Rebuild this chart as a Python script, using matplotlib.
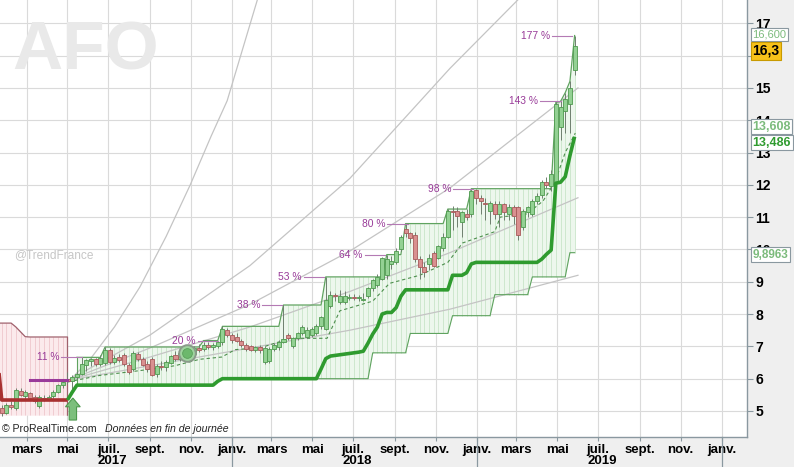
import matplotlib
matplotlib.use("Agg")
import matplotlib.pyplot as plt
import matplotlib.dates as mdates
import matplotlib.transforms as mtransforms
from matplotlib.patches import FancyArrow
from matplotlib.lines import Line2D
import numpy as np
import pandas as pd

plt.rcParams["font.family"] = ["Liberation Sans", "DejaVu Sans"]

# ---------------- data ----------------
WEEK0 = "2017-01-23"          # first weekly candle
OPEN = [5.10, 4.95, 5.20, 5.08, 5.62, 5.45, 5.55, 5.42, 5.15, 5.40,
        5.38, 5.45, 5.60, 5.80, 6.00, 5.93, 6.06, 6.15, 6.42, 6.55,
        6.60, 6.45, 6.48, 6.90, 6.52, 6.66, 6.72, 6.42, 6.30, 6.76,
        6.60, 6.45, 6.60, 6.15, 6.40, 6.36, 6.50, 6.72, 6.60, 6.80,
        6.88, 6.76, 6.96, 6.92, 7.05, 6.98, 7.02, 7.12, 7.50, 7.36,
        7.30, 7.16, 7.05, 7.00, 6.88, 6.98, 6.52, 6.55, 6.92, 6.98,
        7.15, 7.35, 7.00, 7.25, 7.40, 7.30, 7.35, 7.40, 7.62, 7.55,
        8.25, 8.60, 8.38, 8.38, 8.50, 8.52, 8.50, 8.45, 8.55, 8.80,
        8.90, 9.10, 9.20, 9.55, 9.60, 10.00, 10.62, 10.50, 10.45, 9.70,
        9.45, 9.55, 9.90, 9.75, 10.05, 10.40, 11.20, 11.20, 10.85, 11.10,
        11.10, 11.85, 11.60, 11.45, 11.20, 11.40, 11.10, 11.40, 11.10, 11.30,
        11.30, 10.70, 11.15, 11.10, 11.50, 11.70, 12.10, 11.95, 12.10, 13.80,
        14.30, 14.50, 15.55]
HIGH = [5.20, 5.25, 5.30, 5.70, 5.72, 5.65, 5.60, 5.48, 5.48, 5.50,
        5.50, 5.65, 5.85, 5.98, 6.20, 6.12, 6.25, 6.66, 6.62, 6.63,
        6.64, 6.72, 6.98, 6.96, 6.72, 6.76, 6.78, 6.48, 6.86, 6.82,
        6.66, 6.55, 6.66, 6.45, 6.55, 6.58, 6.74, 6.86, 6.86, 6.95,
        6.95, 7.02, 7.06, 7.12, 7.14, 7.10, 7.18, 7.62, 7.58, 7.42,
        7.40, 7.22, 7.10, 7.05, 7.02, 7.05, 7.00, 6.98, 7.10, 7.20,
        8.28, 7.40, 7.30, 7.45, 7.65, 7.60, 7.60, 7.70, 7.95, 9.15,
        8.70, 8.65, 8.75, 8.70, 8.62, 8.62, 8.60, 8.65, 8.85, 9.10,
        9.25, 9.78, 9.84, 9.80, 10.05, 10.45, 10.80, 10.55, 10.55, 9.80,
        9.60, 9.85, 9.95, 10.15, 10.50, 11.25, 11.35, 11.30, 11.20, 11.25,
        11.88, 11.88, 11.70, 11.60, 11.50, 11.50, 11.50, 11.45, 11.40, 11.38,
        11.35, 11.25, 11.35, 11.55, 11.75, 12.15, 12.25, 12.45, 14.55, 14.58,
        14.85, 15.20, 16.62]
LOW = [4.85, 4.90, 5.05, 5.02, 5.45, 5.38, 5.35, 5.25, 5.10, 5.32,
       5.34, 5.40, 5.55, 5.72, 5.85, 5.60, 5.98, 6.10, 6.25, 6.40,
       6.38, 6.40, 6.42, 6.45, 6.46, 6.52, 6.40, 6.15, 6.25, 6.55,
       6.38, 6.22, 6.08, 6.05, 6.28, 6.25, 6.45, 6.55, 6.55, 6.70,
       6.68, 6.72, 6.84, 6.86, 6.92, 6.88, 6.95, 7.05, 7.30, 7.10,
       7.12, 6.98, 6.86, 6.85, 6.82, 6.80, 6.45, 6.48, 6.85, 6.90,
       7.10, 7.20, 6.95, 7.20, 7.35, 7.25, 7.30, 7.35, 7.55, 7.50,
       8.20, 8.40, 8.30, 8.30, 8.42, 8.45, 8.40, 8.40, 8.50, 8.70,
       8.85, 9.05, 9.10, 9.40, 9.55, 9.95, 10.40, 10.20, 9.60, 9.10,
       9.15, 9.35, 9.45, 9.70, 9.95, 10.35, 10.60, 10.70, 10.40, 10.90,
       11.00, 11.40, 11.10, 10.90, 10.80, 10.95, 10.70, 10.90, 10.90, 10.80,
       10.30, 10.60, 11.00, 11.05, 11.40, 11.60, 11.90, 11.80, 12.00, 13.40,
       13.60, 13.60, 15.40]
CLOSE = [4.95, 5.20, 5.12, 5.65, 5.50, 5.60, 5.40, 5.30, 5.42, 5.38,
         5.44, 5.60, 5.80, 5.90, 5.93, 6.06, 6.15, 6.45, 6.58, 6.60,
         6.45, 6.65, 6.90, 6.52, 6.65, 6.58, 6.45, 6.22, 6.80, 6.62,
         6.42, 6.30, 6.12, 6.40, 6.36, 6.52, 6.70, 6.60, 6.80, 6.86,
         6.76, 6.96, 6.90, 7.05, 6.98, 7.04, 7.12, 7.55, 7.36, 7.20,
         7.16, 7.05, 6.92, 6.88, 6.98, 6.88, 6.96, 6.92, 7.05, 7.15,
         7.22, 7.25, 7.25, 7.40, 7.60, 7.52, 7.55, 7.62, 7.90, 8.45,
         8.60, 8.55, 8.55, 8.56, 8.50, 8.50, 8.52, 8.48, 8.80, 9.05,
         9.15, 9.72, 9.70, 9.65, 9.95, 10.40, 10.50, 10.35, 9.70, 9.45,
         9.30, 9.75, 9.50, 10.10, 10.40, 11.20, 11.15, 11.05, 11.15, 11.00,
         11.80, 11.60, 11.50, 11.40, 11.45, 11.10, 11.40, 11.15, 11.30, 11.05,
         10.45, 11.20, 11.30, 11.50, 11.65, 12.10, 12.00, 12.35, 14.50, 14.40,
         14.65, 15.00, 16.30]

# trailing stop, green part (weeks 14..122)
STOP_GREEN = [5.34, 5.58,
              5.80, 5.80, 5.80, 5.80, 5.80, 5.80, 5.80, 5.80, 5.80, 5.80,
              5.80, 5.80, 5.80, 5.80, 5.80, 5.80, 5.80, 5.80, 5.80, 5.80,
              5.80, 5.80, 5.80, 5.80, 5.80, 5.80, 5.80, 5.80, 5.80, 5.80,
              5.92,
              6.00, 6.00, 6.00, 6.00, 6.00, 6.00, 6.00, 6.00, 6.00, 6.00,
              6.00, 6.00, 6.00, 6.00, 6.00, 6.00, 6.00, 6.00, 6.00, 6.00, 6.00,
              6.30, 6.62, 6.70, 6.72, 6.74, 6.76, 6.78, 6.80, 6.82, 6.85,
              7.10, 7.38, 7.60, 8.00, 8.05, 8.05, 8.20, 8.55,
              8.75, 8.75, 8.75, 8.75, 8.75, 8.75, 8.75, 8.75, 8.75, 8.75,
              9.20, 9.20, 9.20, 9.28, 9.55,
              9.60, 9.60, 9.60, 9.60, 9.60, 9.60, 9.60, 9.60, 9.60, 9.60,
              9.60, 9.60, 9.60, 9.60,
              9.70, 9.85, 9.98, 12.05, 12.08, 12.25, 12.90, 13.49]
# trailing stop, red part (one week before chart start, then weeks 0..14)
RED_DATES_START = "2017-01-16"
STOP_RED = [6.76, 5.34, 5.34, 5.34, 5.34, 5.34, 5.34, 5.34, 5.34, 5.34,
            5.34, 5.34, 5.34, 5.34, 5.34, 5.34]
PINK_TOP = [7.72, 7.72, 7.72, 7.72, 7.60, 7.45, 7.30, 7.29, 7.29, 7.29,
            7.29, 7.29, 7.29, 7.29, 7.29, 7.29]
PINK_BOTTOM = [4.87, 4.87, 4.87, 4.87, 4.87, 4.87, 4.87, 4.87, 4.87, 4.87,
               4.87, 4.87, 4.87, 4.87, 4.87, 4.87]

# channel box (weeks 16..122)
BOX_TOP = [6.66, 6.66, 6.66, 6.66, 6.66, 6.66,
           6.98, 6.98, 6.98, 6.98, 6.98, 6.98, 6.98, 6.98, 6.98, 6.98,
           6.98, 6.98, 6.98, 6.98, 6.98, 6.98, 6.98, 6.98, 6.98, 6.98, 6.98,
           7.18, 7.18, 7.18, 7.18,
           7.62, 7.62, 7.62, 7.62, 7.62, 7.62, 7.62, 7.62, 7.62, 7.62,
           7.62, 7.62, 7.62,
           8.28, 8.28, 8.28, 8.28, 8.28, 8.28, 8.28, 8.28, 8.28,
           9.15, 9.15, 9.15, 9.15, 9.15, 9.15, 9.15, 9.15, 9.15, 9.15,
           9.15, 9.15, 9.15,
           9.84, 9.84, 9.84, 9.84,
           10.80, 10.80, 10.80, 10.80, 10.80, 10.80, 10.80, 10.80, 10.80,
           11.25, 11.25, 11.25, 11.25, 11.25,
           11.88, 11.88, 11.88, 11.88, 11.88, 11.88, 11.88, 11.88, 11.88,
           11.88, 11.88, 11.88, 11.88, 11.88, 11.88, 11.88, 11.88, 11.88,
           14.55, 14.58, 14.85, 15.20, 16.62]
BOX_LOW = [5.80, 5.80, 5.80, 5.80, 5.80, 5.80, 5.80, 5.80, 5.80, 5.80,
           5.80, 5.80, 5.80, 5.80, 5.80, 5.80, 5.80, 5.80, 5.80, 5.80,
           5.80, 5.80, 5.80, 5.80, 5.80, 5.80, 5.80, 5.80, 5.80, 5.80,
           5.92,
           6.00, 6.00, 6.00, 6.00, 6.00, 6.00, 6.00, 6.00, 6.00, 6.00,
           6.00, 6.00, 6.00, 6.00, 6.00, 6.00, 6.00, 6.00, 6.00, 6.00,
           6.00, 6.00, 6.00, 6.00, 6.00, 6.00, 6.00, 6.00, 6.00, 6.00,
           6.00, 6.00,
           6.80, 6.80, 6.80, 6.80, 6.80, 6.80, 6.80, 6.80,
           7.40, 7.40, 7.40, 7.40, 7.40, 7.40, 7.40, 7.40, 7.40,
           7.95, 7.95, 7.95, 7.95, 7.95, 7.95, 7.95, 7.95, 7.95,
           8.60, 8.60, 8.60, 8.60, 8.60, 8.60, 8.60, 8.60,
           9.15, 9.15, 9.15, 9.15, 9.15, 9.15, 9.15, 9.15,
           9.90, 9.90]

# dashed support line
DASH_DATES = ["2017-05-02", "2017-06-18", "2017-08-17", "2017-10-08", "2017-11-14",
              "2017-12-17", "2018-01-06", "2018-02-12", "2018-03-29", "2018-05-23",
              "2018-06-11", "2018-07-30", "2018-08-24", "2018-10-08", "2018-11-19",
              "2018-12-11", "2019-01-28", "2019-02-05", "2019-03-17", "2019-04-10",
              "2019-04-28", "2019-05-13", "2019-05-28"]
DASH_VALUES = [5.90, 6.10, 6.25, 6.40, 6.60, 6.67, 6.90, 6.95, 7.25, 7.25,
               8.10, 8.40, 8.95, 9.20, 9.60, 10.20, 10.55, 11.00, 11.10, 11.50,
               12.10, 13.00, 13.60]

# grey growth curves
CURVE_A_DATES = ["2017-05-02", "2017-06-03", "2017-07-10", "2017-08-17", "2017-09-25",
                 "2017-10-31", "2017-12-01", "2017-12-25", "2018-02-12"]
CURVE_A = [5.90, 6.58, 7.60, 8.84, 10.40, 12.00, 13.50, 14.60, 18.00]
CURVE_DATES = ["2017-05-02", "2017-09-01", "2018-01-28", "2018-06-26", "2018-11-22", "2019-06-01"]
CURVE_B = [5.95, 7.35, 9.50, 12.20, 15.60, 19.60]
CURVE_C = [5.95, 6.95, 8.30, 9.95, 11.90, 15.00]
CURVE_D = [5.95, 6.67, 7.60, 8.70, 9.90, 11.60]
CURVE_E = [5.95, 6.40, 6.95, 7.50, 8.15, 9.20]

# breakout percentages
PCT = [11, 20, 38, 53, 64, 80, 98, 143, 177]
PCT_LEVEL = [6.66, 7.18, 8.28, 9.15, 9.84, 10.80, 11.88, 14.58, 16.62]
PCT_DATE = ["2017-05-22", "2017-12-11", "2018-03-17", "2018-05-18", "2018-08-17",
            "2018-09-20", "2018-12-27", "2019-05-06", "2019-05-23"]

REF_LEVEL = 5.97
REF_START, REF_END = "2017-03-06", "2017-05-01"
ARROW_DATE, ARROW_BASE, ARROW_TIP = "2017-05-09", 4.72, 5.40
ICON_DATE, ICON_LEVEL = "2017-10-26", 6.80

# right-hand value boxes: text, level, pixel shift
BOXES = [("16,600", 16.600, 2), ("16,3", 16.30, -5), ("13,608", 13.608, 6),
         ("13,486", 13.486, -6), ("9,8963", 9.8963, -2)]

MONTHS_FR = {1: "janv.", 3: "mars", 5: "mai", 7: "juil.", 9: "sept.", 11: "nov."}
YEARS = [2017, 2018, 2019]

# ---------------- styling ----------------
GREEN_BODY, GREEN_EDGE = "#93d193", "#4e9a4e"
RED_BODY, RED_EDGE = "#d99090", "#a85a5a"
STOP_GREEN_C, STOP_RED_C = "#2f9b2f", "#a83030"
BOX_LINE, BOX_FILL, BOX_HATCH = "#5fa35f", "#edf7ed", "#c9e5c9"
PINK_FILL, PINK_LINE, PINK_HATCH = "#fbeaec", "#a0606c", "#eec7cc"
PURPLE, PURPLE_LINE = "#983a98", "#b47ab4"
GREY = "#c4c4c4"
GRID = "#dadada"
SPINE = "#8a98a0"

W, H = 794, 467
fig = plt.figure(figsize=(W / 100, H / 100), dpi=100, facecolor="#efefef")
ax = fig.add_axes([0, 30 / H, 747 / W, 437 / H])
ax.set_facecolor("white")

weeks = pd.date_range(WEEK0, periods=len(CLOSE), freq="7D")
o, h, l, c = map(np.array, (OPEN, HIGH, LOW, CLOSE))

# pink (short) zone
red_dates = pd.date_range(RED_DATES_START, periods=len(STOP_RED), freq="7D")
ax.fill_between(red_dates, PINK_BOTTOM, PINK_TOP, color=PINK_FILL, lw=0, zorder=1)
ax.vlines(red_dates, PINK_BOTTOM, PINK_TOP, color=PINK_HATCH, lw=0.6, zorder=1.1)
ax.plot(list(red_dates) + [red_dates[-1]], PINK_TOP + [PINK_BOTTOM[-1]],
        color=PINK_LINE, lw=0.9, zorder=1.3)

# green channel zone
bd = weeks[16:]
ax.fill_between(bd, BOX_LOW, BOX_TOP, color=BOX_FILL, lw=0, zorder=1)
ax.vlines(bd, BOX_LOW, BOX_TOP, color=BOX_HATCH, lw=0.6, zorder=1.1)
ax.plot(bd, BOX_TOP, color=BOX_LINE, lw=0.9, zorder=1.6)
ax.plot(bd, BOX_LOW, color=BOX_LINE, lw=0.8, zorder=1.6)
ax.plot([bd[0], bd[0]], [BOX_LOW[0], BOX_TOP[0]], color=BOX_LINE, lw=0.8, zorder=1.6)

# grey growth curves
ax.plot(pd.to_datetime(CURVE_A_DATES), CURVE_A, color=GREY, lw=0.9, zorder=1.4)
for cv in (CURVE_B, CURVE_C, CURVE_D, CURVE_E):
    ax.plot(pd.to_datetime(CURVE_DATES), cv, color=GREY, lw=0.9, zorder=1.4)

# dashed support line
ax.plot(pd.to_datetime(DASH_DATES), DASH_VALUES, color="#4e8f4e", lw=0.8,
        ls=(0, (3, 2.5)), zorder=2)

# candles
up = c >= o
ax.vlines(weeks, l, h, color="#6f7f6f", lw=0.7, zorder=2.5)
body_lo = np.minimum(o, c)
body_h = np.maximum(np.abs(c - o), 0.025)
ax.bar(weeks[up], body_h[up], bottom=body_lo[up], width=6.0,
       color=GREEN_BODY, edgecolor=GREEN_EDGE, lw=0.6, zorder=3)
ax.bar(weeks[~up], body_h[~up], bottom=body_lo[~up], width=6.0,
       color=RED_BODY, edgecolor=RED_EDGE, lw=0.6, zorder=3)

# trailing stops
ax.plot(red_dates, STOP_RED, color=STOP_RED_C, lw=2.6, zorder=4,
        solid_capstyle="butt")
ax.plot(weeks[14:], STOP_GREEN, color=STOP_GREEN_C, lw=2.6, zorder=4,
        solid_capstyle="butt")

# reference level
ax.plot(pd.to_datetime([REF_START, REF_END]), [REF_LEVEL, REF_LEVEL],
        color="#9a3a9a", lw=2.2, zorder=4)

# breakout labels
for p, lev, d in zip(PCT, PCT_LEVEL, pd.to_datetime(PCT_DATE)):
    ax.plot([d - pd.Timedelta(days=30), d], [lev, lev], color=PURPLE_LINE, lw=0.8, zorder=4)
    ax.text(d - pd.Timedelta(days=33), lev, f"{p} %", color=PURPLE, fontsize=7.4,
            ha="right", va="center", zorder=5)

# buy arrow
xa = mdates.date2num(pd.Timestamp(ARROW_DATE))
ax.add_patch(FancyArrow(xa, ARROW_BASE, 0, ARROW_TIP - ARROW_BASE, width=11,
                        head_width=22, head_length=0.27, length_includes_head=True,
                        fc="#7cbf7c", ec="#4d994d", lw=0.8, zorder=5, clip_on=False))
# signal icon
xi = pd.Timestamp(ICON_DATE)
ax.plot([xi], [ICON_LEVEL], "o", ms=12, mfc="#9fd49f", mec="#8a9a8a", mew=1.4, zorder=5)
ax.plot([xi], [ICON_LEVEL], "o", ms=7, mfc="#6cb86c", mec="#5aa05a", mew=0.6, zorder=5)

# axes, grid
ax.set_xlim(pd.Timestamp("2017-01-20 09:00"), pd.Timestamp("2020-02-08"))
ax.set_ylim(4.195, 17.72)
ax.yaxis.tick_right()
ax.set_yticks(range(5, 18))
ax.set_yticklabels([str(v) for v in range(5, 18)], fontsize=10, fontweight="bold")
ax.tick_params(axis="y", length=4, width=0.8, color=SPINE, pad=2)
ax.xaxis.set_major_locator(mdates.MonthLocator(bymonth=list(MONTHS_FR)))
ax.xaxis.set_major_formatter(plt.FuncFormatter(
    lambda v, pos: MONTHS_FR[mdates.num2date(v).month]))
ax.tick_params(axis="x", length=3, width=0.8, color=SPINE, pad=2, labelsize=9.5)
for lab in ax.get_xticklabels():
    lab.set_fontweight("bold")
ax.grid(True, color=GRID, lw=0.8, zorder=0)
ax.set_axisbelow(True)
for side in ("top", "left"):
    ax.spines[side].set_visible(False)
for side in ("right", "bottom"):
    ax.spines[side].set_color(SPINE)
    ax.spines[side].set_linewidth(1.0)

# year labels and separators
trans = mtransforms.blended_transform_factory(ax.transData, ax.transAxes)
for yr in YEARS:
    ax.text(pd.Timestamp(f"{yr}-07-07"), -24 / 437, str(yr), transform=trans,
            ha="center", va="center", fontsize=9.5, fontweight="bold")
for yr in (2018, 2019, 2020):
    ax.add_line(Line2D([pd.Timestamp(f"{yr}-01-01")] * 2, [0, -30 / 437],
                       transform=trans, color=SPINE, lw=0.9, clip_on=False))

# value boxes on the right axis
ytrans = ax.get_yaxis_transform()
styles = {
    "16,600": dict(color="#7cbb7c", fontsize=8, fc="white", fw="normal"),
    "16,3": dict(color="black", fontsize=10, fc="#f7c21a", fw="bold"),
    "13,608": dict(color="#7cbb7c", fontsize=9, fc="white", fw="bold"),
    "13,486": dict(color=STOP_GREEN_C, fontsize=9, fc="white", fw="bold"),
    "9,8963": dict(color="#7cbb7c", fontsize=8.5, fc="white", fw="bold"),
}
for txt, lev, dy in BOXES:
    s = styles[txt]
    ax.annotate(txt, xy=(1, lev), xycoords=ytrans, xytext=(4, dy * 0.72),
                textcoords="offset points", ha="left", va="center",
                color=s["color"], fontsize=s["fontsize"], fontweight=s["fw"],
                annotation_clip=False, zorder=10,
                bbox=dict(boxstyle="square,pad=0.12", fc=s["fc"],
                          ec=SPINE if s["fc"] == "white" else "#c89a00", lw=0.8))

# watermark and credits
fig.text(12 / W, 1 - 70 / H, "AFO", fontsize=50, fontweight="bold",
         color="#e9e9e9", va="baseline", ha="left", zorder=0.5)
fig.text(14 / W, 1 - 258 / H, "@TrendFrance", fontsize=8.6, color="#c6c6c6",
         va="baseline", ha="left")
fig.text(2 / W, 1 - 432 / H, "© ProRealTime.com", fontsize=7.6,
         color="#222222", va="baseline", ha="left")
fig.text(105 / W, 1 - 432 / H, "Données en fin de journée", fontsize=7.6,
         style="italic", color="#222222", va="baseline", ha="left")

fig.savefig("out.png", dpi=100, facecolor=fig.get_facecolor())
